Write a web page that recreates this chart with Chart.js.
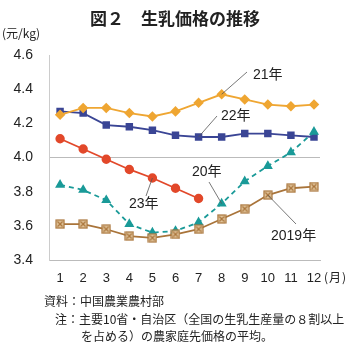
<!DOCTYPE html>
<html lang="ja">
<head>
<meta charset="utf-8">
<script src="https://cdn.jsdelivr.net/npm/chart.js@4.4.1/dist/chart.umd.min.js"></script>
<style>
  html, body { margin: 0; padding: 0; background: #fff; }
  #wrap { position: relative; width: 350px; height: 344px; overflow: hidden;
          font-family: "Noto Sans CJK JP", "Noto Sans", sans-serif; color: #222; }
  #wrap canvas { position: absolute; left: 0; top: 0; }
  .t { position: absolute; white-space: nowrap; line-height: 1; }
  #title { left: 0; width: 350px; top: 9px; text-align: center; font-size: 17px; font-weight: bold; }
  #unit { left: 2px; top: 27px; font-size: 12px; }
  #month { left: 324px; top: 271px; font-size: 12px; letter-spacing: 1px; }
  .note { font-size: 12px; }
</style>
</head>
<body>
<div id="wrap">
  <canvas id="c" width="350" height="344"></canvas>
  <div class="t" id="title">図２　生乳価格の推移</div>
  <div class="t" id="unit">(元/kg)</div>
  <div class="t" id="month">(月)</div>
  <div class="t note" style="left:44px; top:295px;">資料：中国農業農村部</div>
  <div class="t note" style="left:55px; top:313px;">注：主要10省・自治区（全国の生乳生産量の８割以上</div>
  <div class="t note" style="left:81px; top:330px;">を占める）の農家庭先価格の平均。</div>
</div>
<script>
// Months on the horizontal axis
const months = ['1','2','3','4','5','6','7','8','9','10','11','12'];
// Y-axis ticks (yuan per kg)
const yTicks = [3.4, 3.6, 3.8, 4.0, 4.2, 4.4, 4.6];

// Monthly raw milk prices by year
const y2019 = [3.61, 3.61, 3.58, 3.54, 3.53, 3.55, 3.58, 3.64, 3.70, 3.78, 3.82, 3.83];
const y2020 = [3.84, 3.81, 3.75, 3.61, 3.56, 3.57, 3.62, 3.73, 3.86, 3.95, 4.03, 4.15];
const y2021 = [4.25, 4.29, 4.29, 4.26, 4.24, 4.27, 4.32, 4.37, 4.34, 4.31, 4.30, 4.31];
const y2022 = [4.27, 4.26, 4.19, 4.18, 4.16, 4.13, 4.12, 4.12, 4.14, 4.14, 4.13, 4.12];
const y2023 = [4.11, 4.05, 3.99, 3.93, 3.88, 3.82, 3.76];

const toXY = arr => arr.map((v, i) => ({ x: i + 1, y: v }));

// Square marker with an X inside for 2019
function crossBox() {
  const c = document.createElement('canvas');
  c.width = 10; c.height = 10;
  const g = c.getContext('2d');
  g.fillStyle = '#e2c59c';
  g.strokeStyle = '#a9743a';
  g.lineWidth = 1.2;
  g.fillRect(1, 1, 8, 8);
  g.strokeRect(1, 1, 8, 8);
  g.beginPath();
  g.moveTo(2.5, 2.5); g.lineTo(7.5, 7.5);
  g.moveTo(7.5, 2.5); g.lineTo(2.5, 7.5);
  g.stroke();
  return c;
}

// Series labels with leader lines pointing at a month's point
const callouts = [
  { text: '21年', series: y2021, month: 8, tx: 253, ty: 75, lx: 247, ly: 72 },
  { text: '22年', series: y2022, month: 7, tx: 221, ty: 116, lx: 217, ly: 116 },
  { text: '20年', series: y2020, month: 8, tx: 192, ty: 172, lx: 209, ly: 182 },
  { text: '2019年', series: y2019, month: 10, tx: 271, ty: 236, lx: 296, ly: 224 },
  { text: '23年', series: y2023, month: 5, tx: 129, ty: 204, lx: 146, ly: 196 }
];

const calloutPlugin = {
  id: 'callouts',
  afterDatasetsDraw(chart) {
    const { ctx, scales: { x, y } } = chart;
    ctx.save();
    ctx.font = '14px "Liberation Sans", "Noto Sans CJK JP", sans-serif';
    ctx.fillStyle = '#222';
    ctx.textBaseline = 'middle';
    ctx.textAlign = 'left';
    callouts.forEach(c => {
      const px = x.getPixelForValue(c.month);
      const py = y.getPixelForValue(c.series[c.month - 1]);
      ctx.strokeStyle = '#555';
      ctx.lineWidth = 0.8;
      ctx.beginPath();
      ctx.moveTo(c.lx, c.ly);
      ctx.lineTo(px, py);
      ctx.stroke();
      ctx.fillText(c.text, c.tx, c.ty);
    });
    ctx.restore();
  }
};

const chart = new Chart(document.getElementById('c'), {
  type: 'line',
  data: {
    datasets: [
      { label: '2019年', data: toXY(y2019), borderColor: '#a9743a', borderWidth: 1.8,
        pointStyle: crossBox(), pointRadius: 5 },
      { label: '20年', data: toXY(y2020), borderColor: '#1a9a98', borderWidth: 1.8,
        borderDash: [5, 4], pointStyle: 'triangle', pointRadius: 4,
        pointBackgroundColor: '#1a9a98', pointBorderColor: '#1a9a98' },
      { label: '21年', data: toXY(y2021), borderColor: '#efa632', borderWidth: 1.8,
        pointStyle: 'rectRot', pointRadius: 4,
        pointBackgroundColor: '#efa632', pointBorderColor: '#efa632' },
      { label: '22年', data: toXY(y2022), borderColor: '#3a4595', borderWidth: 1.8,
        pointStyle: 'rect', pointRadius: 4,
        pointBackgroundColor: '#3a4595', pointBorderColor: '#3a4595' },
      { label: '23年', data: toXY(y2023), borderColor: '#e2482a', borderWidth: 1.8,
        pointStyle: 'circle', pointRadius: 3.8,
        pointBackgroundColor: '#e2482a', pointBorderColor: '#e2482a' }
    ]
  },
  options: {
    responsive: false,
    animation: false,
    layout: { padding: { left: 0, top: 55, right: 30, bottom: 54 } },
    plugins: { legend: { display: false }, tooltip: { enabled: false } },
    elements: { line: { tension: 0 } },
    scales: {
      x: {
        type: 'linear',
        min: 0.52, max: 12.26,
        afterBuildTicks: s => { s.ticks = months.map((_, i) => ({ value: i + 1 })); },
        afterFit: s => { s.height = 30; },
        ticks: {
          padding: 11,
          color: '#222',
          font: { size: 13, family: 'Liberation Sans, Arial, sans-serif' },
          callback: v => months[v - 1]
        },
        grid: { display: false, drawTicks: false },
        border: { display: true, color: '#bbb', width: 1 }
      },
      y: {
        min: yTicks[0], max: yTicks[yTicks.length - 1],
        afterBuildTicks: s => { s.ticks = yTicks.map(v => ({ value: v })); },
        afterFit: s => { s.width = 49; },
        ticks: {
          padding: 16,
          color: '#222',
          font: { size: 14, family: 'Liberation Sans, Arial, sans-serif' },
          callback: v => v.toFixed(1)
        },
        grid: {
          drawTicks: false,
          color: ctx => (ctx.tick && Math.abs(ctx.tick.value - 4.0) < 1e-6) ? '#bbb' : 'rgba(0,0,0,0)',
          lineWidth: 1
        },
        border: { display: true, color: '#ccc', width: 1 }
      }
    }
  },
  plugins: [calloutPlugin]
});
</script>
</body>
</html>
